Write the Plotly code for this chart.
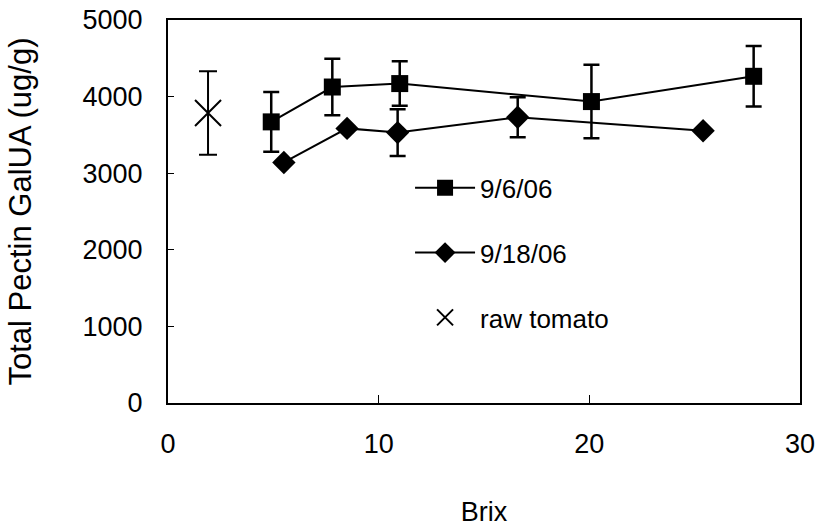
import plotly.graph_objects as go

# Data
brix_0906 = [4.9, 7.8, 11.0, 20.1, 27.8]
galua_0906 = [3670, 4125, 4170, 3935, 4265]
err_0906 = [390, 370, 290, 480, 395]

brix_0918 = [5.5, 8.5, 10.9, 16.6, 25.4]
galua_0918 = [3140, 3585, 3530, 3730, 3555]
err_0918 = [None, None, 305, 260, None]

brix_raw = [1.9]
galua_raw = [3785]
err_raw = [545]

x_ticks = [0, 10, 20, 30]
y_ticks = [0, 1000, 2000, 3000, 4000, 5000]

FONT = "Liberation Sans, Arial, sans-serif"

fig = go.Figure()
fig.add_trace(go.Scatter(
    x=brix_0906, y=galua_0906, name="9/6/06", mode="lines+markers",
    legendgroup="a",
    line=dict(color="black", width=2),
    marker=dict(symbol="square", size=17, color="black"),
    error_y=dict(type="data", array=err_0906, visible=True, color="black",
                 thickness=2.5, width=8),
))
fig.add_trace(go.Scatter(
    x=brix_0918, y=galua_0918, name="9/18/06", mode="lines+markers",
    legendgroup="b",
    line=dict(color="black", width=2),
    marker=dict(symbol="diamond", size=18, color="black"),
    error_y=dict(type="data", array=err_0918, visible=True, color="black",
                 thickness=2.5, width=8),
))
fig.add_trace(go.Scatter(
    x=brix_raw, y=galua_raw, name="raw tomato", mode="markers",
    legendgroup="c",
    marker=dict(symbol="x-thin-open", size=26, color="black",
                line=dict(color="black", width=2)),
    error_y=dict(type="data", array=err_raw, visible=True, color="black",
                 thickness=2, width=9),
))

fig.update_layout(
    width=825, height=529,
    margin=dict(l=168, r=25, t=20, b=126),
    paper_bgcolor="white", plot_bgcolor="white",
    font=dict(family=FONT, size=26, color="black"),
    showlegend=True,
    legend=dict(x=0.383, y=0.623, xanchor="left", yanchor="top",
                bgcolor="rgba(0,0,0,0)", font=dict(size=26),
                traceorder="grouped", tracegroupgap=28, itemwidth=60),
    xaxis=dict(range=[0, 30], tickvals=x_ticks, showgrid=False, zeroline=False,
               automargin=False,
               showline=True, linecolor="black", linewidth=2, mirror=True,
               ticks="inside", ticklen=8, tickcolor="black", tickwidth=1,
               ticklabelstandoff=16, tickfont=dict(size=27),
               title=dict(text="Brix", font=dict(size=27), standoff=44)),
    yaxis=dict(range=[0, 5000], tickvals=y_ticks, showgrid=False, zeroline=False,
               automargin=False,
               showline=True, linecolor="black", linewidth=2, mirror=True,
               ticks="inside", ticklen=6, tickcolor="black", tickwidth=1,
               ticklabelstandoff=18, tickfont=dict(size=27),
               title=dict(text="Total Pectin GalUA (ug/g)", font=dict(size=31),
                          standoff=42)),
)

fig.write_html("out.html",
               config={"displayModeBar": False},
               post_script="document.body.style.margin='0';document.body.style.overflow='hidden';")
